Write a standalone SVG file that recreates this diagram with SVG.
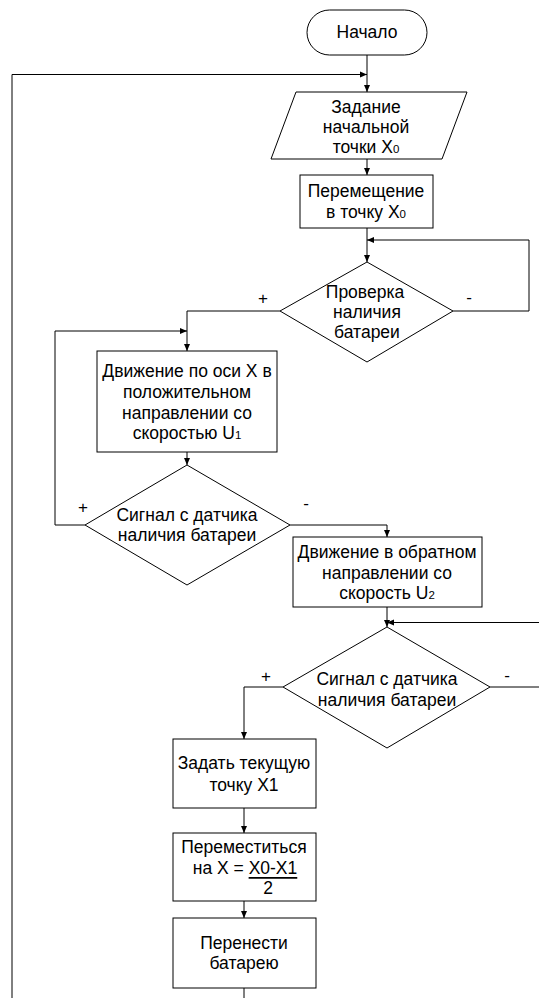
<svg xmlns="http://www.w3.org/2000/svg" width="539" height="998" viewBox="0 0 539 998">
<defs>
<marker id="ah" markerWidth="8" markerHeight="8" refX="7" refY="4" orient="auto" markerUnits="userSpaceOnUse">
<path d="M0,1 L7,4 L0,7 Z" fill="#000"/>
</marker>
<style>
.s{fill:#fff;stroke:#000;stroke-width:1}
.c{fill:none;stroke:#000;stroke-width:1}
text{font-family:"Liberation Sans",Arial,sans-serif;font-size:17.5px;fill:#000;text-anchor:middle;dominant-baseline:central}
.sub{font-size:11.5px}
.lbl{font-size:17px}
</style>
</defs>
<rect width="539" height="998" fill="#fff"/>
<g id="connectors">
<path class="c" d="M367,55 V92" marker-end="url(#ah)"/>
<path class="c" d="M12,998 V74.5 H367" marker-end="url(#ah)"/>
<path class="c" d="M367,159 V175" marker-end="url(#ah)"/>
<path class="c" d="M367,228 V262" marker-end="url(#ah)"/>
<path class="c" d="M453,311 H529 V240 H367" marker-end="url(#ah)"/>
<path class="c" d="M280,311 H187 V351" marker-end="url(#ah)"/>
<path class="c" d="M85,525 H55 V331 H187" marker-end="url(#ah)"/>
<path class="c" d="M187,452 V465" marker-end="url(#ah)"/>
<path class="c" d="M290,525 H387 V537" marker-end="url(#ah)"/>
<path class="c" d="M387,607 V627" marker-end="url(#ah)"/>
<path class="c" d="M539,622.5 H387" marker-end="url(#ah)"/>
<path class="c" d="M490,687 H539"/>
<path class="c" d="M283,687 H244 V739" marker-end="url(#ah)"/>
<path class="c" d="M244,808 V833" marker-end="url(#ah)"/>
<path class="c" d="M244,901 V918" marker-end="url(#ah)"/>
<path class="c" d="M244,988 V998"/>
<text class="lbl" x="263" y="298">+</text>
<text class="lbl" x="469" y="297">-</text>
<text class="lbl" x="83" y="507">+</text>
<text class="lbl" x="306" y="503">-</text>
<text class="lbl" x="266" y="676">+</text>
<text class="lbl" x="507" y="675">-</text>
</g>
<g id="start">
<rect class="s" x="307" y="10" width="120" height="45" rx="22.5"/>
<text x="367" y="32">Начало</text>
</g>
<g id="input">
<polygon class="s" points="296,92 467,92 442,159 271,159"/>
<text x="366" y="107">Задание</text>
<text x="366" y="127">начальной</text>
<text x="366" y="147">точки X<tspan class="sub" dy="2">0</tspan></text>
</g>
<g id="move0">
<rect class="s" x="300" y="175" width="133" height="53"/>
<text x="366" y="191">Перемещение</text>
<text x="366" y="212">в точку X<tspan class="sub" dy="2">0</tspan></text>
</g>
<g id="check">
<polygon class="s" points="367,262 453,311 367,362 280,311"/>
<text x="365" y="292">Проверка</text>
<text x="367" y="312">наличия</text>
<text x="367" y="332">батареи</text>
</g>
<g id="forward">
<rect class="s" x="97" y="351" width="180" height="101"/>
<text x="187" y="371">Движение по оси X в</text>
<text x="187" y="392">положительном</text>
<text x="187" y="413">направлении со</text>
<text x="187" y="433">скоростью  U<tspan class="sub" dy="2">1</tspan></text>
</g>
<g id="sensor1">
<polygon class="s" points="187,465 290,525 187,585 85,525"/>
<text x="187" y="515">Сигнал с датчика</text>
<text x="187" y="535">наличия батареи</text>
</g>
<g id="backward">
<rect class="s" x="293" y="537" width="189" height="70"/>
<text x="387" y="552">Движение в обратном</text>
<text x="387" y="573">направлении со</text>
<text x="387" y="593">скорость U<tspan class="sub" dy="2">2</tspan></text>
</g>
<g id="sensor2">
<polygon class="s" points="387,627 490,687 387,748 283,687"/>
<text x="387" y="679">Сигнал с датчика</text>
<text x="387" y="700">наличия батареи</text>
</g>
<g id="setpoint">
<rect class="s" x="173" y="739" width="143" height="69"/>
<text x="244" y="763">Задать текущую</text>
<text x="244" y="785">точку X1</text>
</g>
<g id="moveto">
<rect class="s" x="173" y="833" width="143" height="68"/>
<text x="244" y="847">Переместиться</text>
<text x="245" y="868">на X = <tspan text-decoration="underline">X0-X1</tspan></text>
<text x="268" y="888">2</text>
</g>
<g id="transfer">
<rect class="s" x="173" y="918" width="143" height="70"/>
<text x="244" y="943">Перенести</text>
<text x="244" y="963">батарею</text>
</g>
</svg>
